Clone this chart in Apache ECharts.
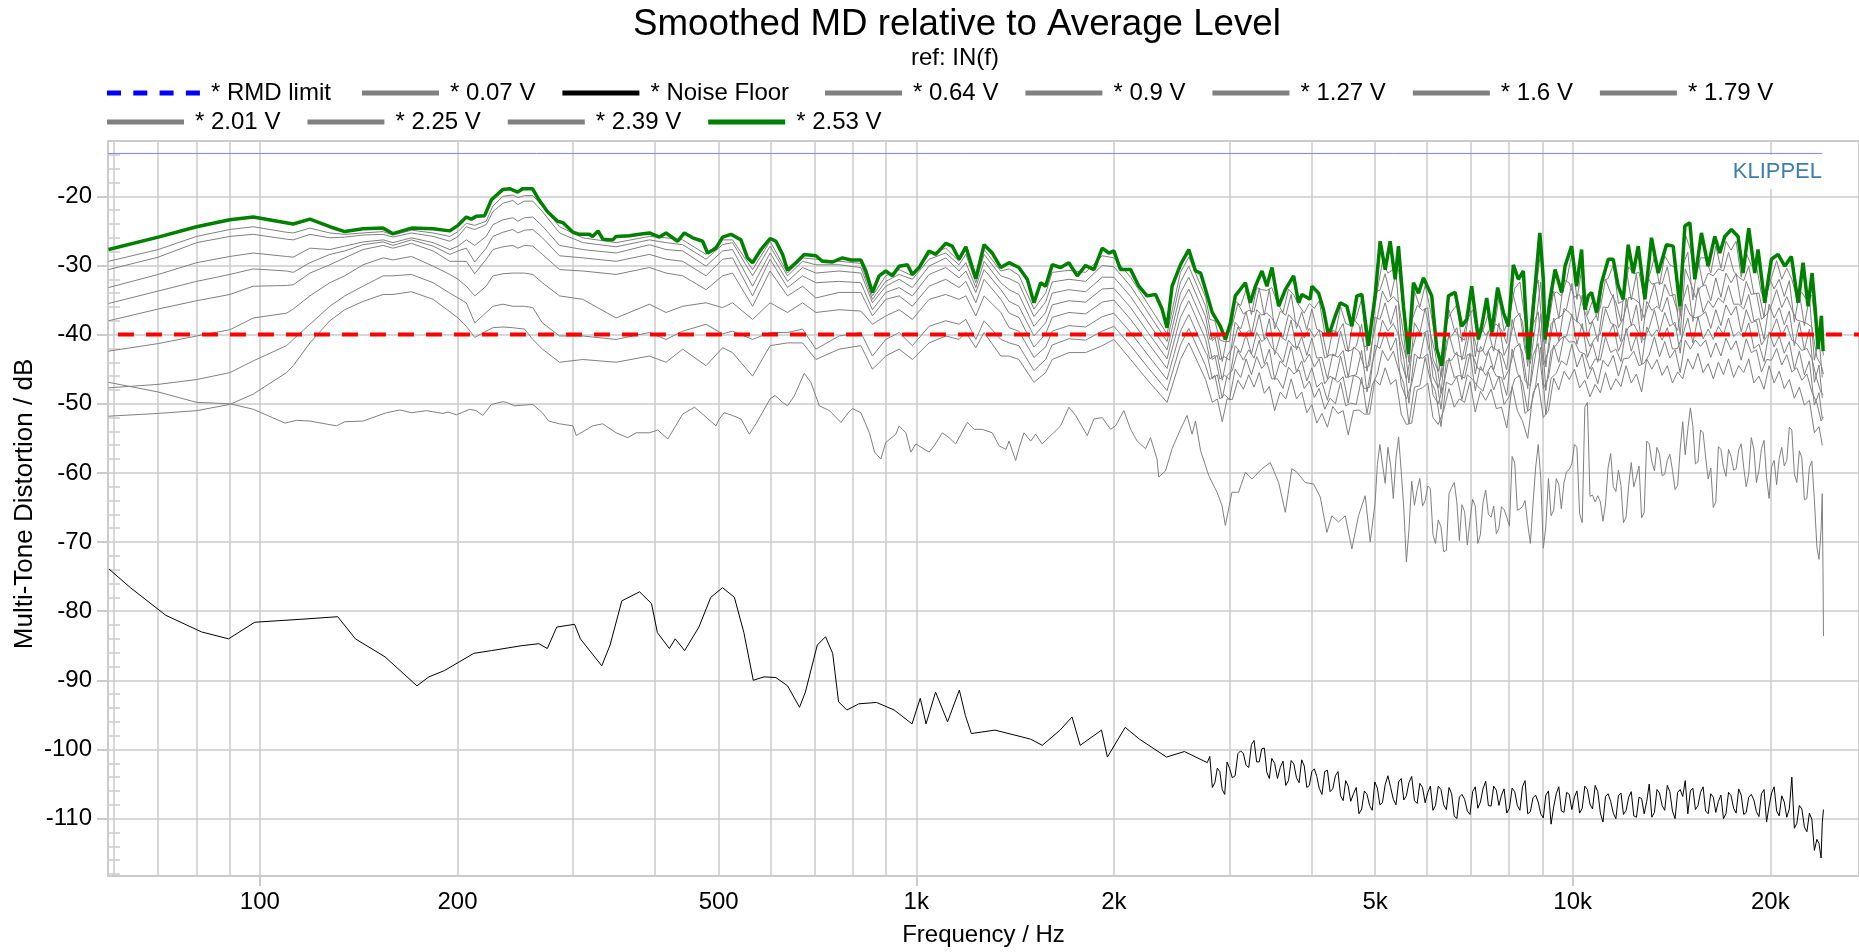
<!DOCTYPE html>
<html><head><meta charset="utf-8">
<script src="https://cdn.jsdelivr.net/npm/echarts@6/dist/echarts.min.js"></script>
<style>html,body{margin:0;padding:0;background:#fff;overflow:hidden}#c{width:1859px;height:952px}</style>
</head><body><div id="c"></div>
<script>
const FONT = '"Liberation Sans", Arial, Helvetica, sans-serif';

// ---- axis ticks ----
const labelFreqs = [100, 200, 500, 1000, 2000, 5000, 10000, 20000];
const gridFreqs = [60,70,80,90,100,200,300,400,500,600,700,800,900,1000,2000,3000,4000,5000,6000,7000,8000,9000,10000,20000];
const decadeFreqs = [100, 1000, 10000];
const yMajorTicks = [-110,-100,-90,-80,-70,-60,-50,-40,-30,-20];
const yMinorTicks = [-118,-116,-114,-112,-108,-106,-104,-102,-98,-96,-94,-92,-88,-86,-84,-82,-78,-76,-74,-72,-68,-66,-64,-62,-58,-56,-54,-52,-48,-46,-44,-42,-38,-36,-34,-32,-28,-26,-24,-22,-18,-16,-14];

// ---- reference levels ----
const rmdLimitLevel = -40;
const rmdLimitRange = [55.1, 27300];
const refLineLevel = -13.8;
const refLineRange = [58.7, 24000];

// ---- 2.53 V (green) ----
const v253 = [[58.8,-27.7],[70,-25.9],[80.1,-24.4],[90,-23.4],[97.7,-23.0],[112.4,-24.0],[119.2,-23.3],[127.8,-24.4],[134.7,-25.1],[143.6,-24.7],[154.1,-24.6],[159.5,-25.4],[170.2,-24.6],[183.6,-24.7],[194.7,-25.0],[200.4,-24.2],[206.3,-23.0],[210,-23.3],[213.6,-22.9],[220,-22.8],[225.3,-20.5],[234.6,-19.0],[240.1,-18.9],[247,-19.4],[251.3,-18.9],[260.2,-18.9],[266.2,-20.5],[274.1,-22.2],[284.2,-23.6],
[289.4,-23.8],[299.9,-25.2],[306.8,-25.5],[317.7,-25.5],[321.3,-25.8],[327.5,-25.0],[333,-26.2],[344.9,-26.3],[348.9,-25.8],[365.6,-25.7],[378.6,-25.5],[392.1,-25.3],[406.1,-25.9],[415.7,-25.3],[433,-26.5],[443.3,-25.3],[456.4,-26.0],[472.6,-26.5],[481,-28.2],[495.3,-27.5],[506.9,-25.9],[522,-25.5],[540.6,-26.3],[553.2,-28.9],[563.1,-29.6],[579.9,-27.7],[598.8,-26.1],[611.2,-26.5],[625.6,-28.4],[636.6,-30.7],[655.6,-29.6],[675,-28.4],[703.2,-28.6],[719.7,-29.4],[745.3,-29.5],[771.8,-28.9],[795,-29.2],[823.4,-29.2],[837.9,-30.8],[857.4,-33.9],[877.7,-31.5],[898.5,-30.8],[919.8,-31.5],[941.6,-30.1],[969.3,-29.9],[986.4,-31.3],[1009.9,-30.3],[1045.8,-27.9],[1070.7,-28.4],[1108.8,-26.8],[1134.6,-27.2],[1161.9,-29.1],[1189.9,-27.3],[1232.3,-31.9],[1268.5,-27.0],[1305.6,-28.2],[1345.2,-30.3],[1384.6,-29.6],
[1433,-30.3],[1476,-32.0],[1511,-35.4],[1547,-32.5],[1574,-33.0],[1611,-29.9],[1659,-30.3],[1708,-29.6],[1759,-31.5],[1811,-30.0],[1865,-30.6],[1920,-27.5],[1965,-28.2],[2000,-27.9],[2047,-30.6],[2121,-30.6],[2183,-33.0],[2247,-34.4],[2315,-34.2],[2368,-36.3],[2410,-39.0],[2453,-33.0],[2526,-29.9],[2601,-27.7],[2663,-30.8],[2711,-31.1],[2759,-33.5],[2824,-36.8],[2906,-38.8],[2957,-40.7],[3010,-38.3],[3062,-34.4],[3172,-32.5],[3228,-35.4],[3285,-33.0],[3362,-30.8],[3421,-33.0],[3482,-30.3],[3565,-35.9],[3649,-33.5],[3757,-31.5],[3823,-35.4],[3868,-34.2],[3980,-34.9],[4006,-33.0],[4101,-34.0],[4173,-36.4],[4247,-40.2],[4348,-37.3],[4424,-35.4],[4528,-35.9],[4609,-38.8],[4690,-34.4],[4773,-34.2],[4885,-41.6],[5000,-34.4],[5090,-26.5],[5180,-30.6],[5271,-26.5],[5365,-32.0],[5427,-27.2],[5523,-35.9],[5620,-42.8],[5720,-32.5],[5821,-34.0],[5925,-31.8],
[6099,-34.4],[6208,-42.1],[6317,-44.5],[6467,-34.4],[6621,-33.9],[6775,-38.8],[6895,-37.8],[7017,-33.0],[7184,-40.7],[7267,-38.8],[7396,-34.7],[7526,-39.7],[7686,-33.2],[7842,-36.8],[7980,-38.8],[8121,-29.9],[8265,-32.0],[8411,-30.8],[8560,-43.6],[8711,-35.9],[8910,-25.3],[9022,-32.0],[9076,-40.7],[9237,-34.9],[9400,-30.6],[9619,-33.9],[9734,-30.1],[9961,-27.2],[10137,-33.0],[10317,-27.7],[10440,-36.4],[10562,-34.4],[10684,-33.9],[10873,-36.8],[11066,-32.5],[11330,-29.1],[11528,-29.1],[11732,-33.0],[11939,-34.9],[12150,-27.0],[12365,-31.1],[12584,-27.2],[12883,-34.9],[13184,-26.0],[13497,-31.1],[13895,-27.0],[14225,-27.2],[14563,-35.9],[14821,-24.3],[15082,-23.8],[15349,-32.0],[15708,-25.3],[16081,-30.1],[16462,-25.8],[16753,-28.2],[17049,-25.8],[17448,-24.8],[17862,-25.8],[18178,-31.1],[18544,-24.6],[18938,-31.1],[19158,-27.7],[19613,-35.4],[20077,-29.1],[20554,-28.4],[21042,-30.1],[21534,-28.7],[22046,-35.4],[22436,-29.6],[22835,-35.9],[23158,-31.1],[23434,-36.8],[23648,-42.1],[23928,-37.3],[24072,-42.4]];

// ---- gray voltage curves: frequencies up to 2.76 kHz ----
const bandFreqs = [58.8,70,80.1,90,97.7,109.8,112.4,119.2,127.8,134.7,143.6,154.1,159.5,170.2,183.6,194.7,200.4,206.3,212.5,221.2,226.5,234.6,242.9,247.2,253,260.5,269.4,286.1,
310.4,348.9,392.1,415.7,440.7,478.3,506.9,524.9,563.1,598.8,636.6,671,703.2,763,823.4,857.4,898.5,941.6,986.4,1045.8,1108.8,1161.9,1189.9,1232.3,1268.5,1345.2,
1385,1433,1511,1574,1611,1708,1811,1920,2000,2121,2247,2410,2526,2601,2759];

// ---- dense frequencies above 2.8 kHz (two interleaved sets) ----
const hfFreqs = [2800,2850,2900,2950,3000,3060,3120,3180,3240,3300,3360,3420,3480,3550,3620,3690,3760,3830,3900,3970,
4040,4110,4190,4270,4350,4430,4510,4590,4680,4770,4860,4950,5040,5130,5230,5330,5430,5530,5630,5740,
5850,5960,6070,6180,6300,6420,6540,6660,6780,6910,7040,7170,7300,7440,7580,7720,7860,8010,8160,8310,
8460,8620,8780,8940,9100,9270,9440,9610,9790,9970,10150,10340,10530,10720,10920,11120,11320,11530,11740,11950,
12170,12390,12620,12850,13080,13320,13560,13810,14060,14320,14580,14840,15110,15380,15660,15940,16230,16520,16820,17120,
17430,17740,18060,18380,18710,19050,19390,19740,20090,20450,20820,21190,21570,21950,22340,22740,23140,23550,23900,24100];
const hfMidFreqs = [2775,2825,2875,2925,2975,3030,3090,3150,3210,3270,3330,3390,3450,3515,3585,3655,3725,3795,3865,3935,
4005,4075,4150,4230,4310,4390,4470,4550,4635,4725,4815,4905,4995,5085,5180,5280,5380,5480,5580,5685,
5795,5905,6015,6125,6240,6360,6480,6600,6720,6845,6975,7105,7235,7370,7510,7650,7790,7935,8085,8235,
8385,8540,8700,8860,9020,9185,9355,9525,9700,9880,10060,10245,10435,10625,10820,11020,11220,11425,11635,11845,
12060,12280,12505,12735,12965,13200,13440,13685,13935,14190,14450,14710,14975,15245,15520,15800,16085,16375,16670,16970,
17275,17585,17900,18220,18545,18880,19220,19565,19915,20270,20635,21005,21380,21760,22145,22540,22940,23345,23725,24000];

const v239 = [-29.4,-27.7,-25.8,-24.8,-24.4,-25.2,-25.3,-24.6,-25.3,-25.5,-25.3,-25.1,-25.6,-24.9,-25.3,-25.8,-25.1,-23.9,-24.2,-23.6,-21.4,-20.0,-19.8,-20.2,-19.9,-19.9,-21.4,-24.4,
-26.0,-26.7,-25.8,-26.0,-26.3,-28.4,-26.3,-26.3,-30.6,-26.5,-31.1,-28.9,-29.1,-29.4,-29.7,-34.4,-31.5,-30.6,-31.5,-28.4,-27.5,-29.4,-27.7,-32.0,-27.7,-30.8,
-30.5,-31.4,-36.3,-34.0,-31.0,-30.7,-31.0,-28.6,-28.9,-31.7,-35.4,-39.9,-31.0,-28.8,-34.6];
const v239hf = [-37.8,-38.0,-40.8,-41.0,-41.0,-35.1,-35.8,-33.5,-37.1,-33.2,-33.5,-33.6,-33.2,-35.5,-36.8,-33.4,-34.3,-35.8,-36.9,-35.5,
-36.2,-35.1,-39.8,-40.1,-39.7,-36.0,-38.4,-38.7,-37.6,-34.8,-42.3,-38.2,-33.6,-29.5,-31.1,-30.6,-30.6,-37.0,-44.0,-33.7,
-36.0,-32.9,-36.4,-40.7,-46.1,-38.1,-36.7,-35.7,-41.0,-37.8,-36.4,-40.6,-39.4,-37.0,-39.6,-34.6,-39.5,-37.5,-33.3,-32.4,
-37.9,-41.2,-34.0,-27.8,-41.3,-34.6,-33.8,-34.4,-32.1,-28.3,-34.9,-30.1,-37.2,-35.1,-38.0,-32.2,-31.9,-29.9,-35.5,-35.1,
-30.2,-31.2,-31.0,-34.7,-31.6,-28.8,-32.8,-28.6,-29.9,-30.3,-37.3,-25.5,-27.7,-31.8,-28.9,-28.9,-31.1,-27.2,-30.4,-26.5,
-27.8,-26.5,-31.7,-28.2,-30.0,-30.1,-34.1,-34.2,-31.7,-29.3,-32.0,-30.4,-32.0,-34.7,-33.9,-35.0,-34.3,-40.3,-40.5,-43.0];

const v225 = [-30.6,-28.8,-26.7,-25.8,-25.5,-26.2,-26.3,-25.5,-26.0,-25.9,-25.6,-25.5,-25.9,-25.3,-25.8,-26.5,-25.8,-24.4,-24.8,-24.1,-22.2,-21.0,-20.6,-21.2,-20.7,-20.7,-22.2,-25.3,
-26.7,-27.3,-26.3,-26.7,-27.0,-29.1,-27.0,-26.7,-31.5,-27.2,-31.5,-29.4,-29.9,-29.9,-30.3,-34.9,-32.3,-31.3,-32.0,-29.1,-28.2,-29.9,-28.4,-32.5,-28.4,-31.5,
-31.9,-32.6,-37.4,-35.3,-32.4,-32.0,-32.3,-30.0,-30.2,-33.0,-36.6,-41.0,-32.4,-30.1,-35.9];
const v225hf = [-37.2,-40.9,-40.2,-43.9,-40.3,-38.6,-35.5,-37.0,-36.5,-36.7,-33.3,-37.2,-33.4,-39.2,-36.6,-37.2,-34.2,-39.1,-36.7,-39.3,
-36.3,-39.2,-39.6,-43.3,-39.4,-39.7,-38.4,-42.5,-37.7,-38.7,-41.8,-41.4,-33.6,-33.6,-31.2,-34.6,-31.0,-40.5,-43.5,-38.0,
-35.8,-36.5,-36.1,-43.5,-45.3,-41.3,-36.4,-39.3,-40.3,-40.8,-36.0,-43.2,-38.8,-40.1,-39.0,-38.5,-39.3,-41.3,-33.5,-36.7,
-38.1,-44.6,-34.2,-32.1,-41.0,-38.5,-33.7,-37.7,-32.1,-32.5,-34.6,-34.2,-36.7,-38.5,-37.5,-36.1,-32.0,-34.0,-35.3,-38.1,
-30.4,-35.0,-31.2,-38.0,-31.5,-32.7,-32.5,-32.6,-30.2,-34.3,-36.7,-30.0,-28.1,-35.0,-29.0,-32.9,-31.1,-31.5,-30.5,-30.8,
-28.1,-30.8,-31.7,-32.2,-30.1,-34.1,-34.0,-37.5,-31.7,-33.4,-32.0,-34.5,-32.2,-38.2,-34.0,-38.7,-34.6,-43.7,-40.4,-46.2];

const v201 = [-33.2,-31.3,-29.6,-28.7,-28.2,-28.7,-28.8,-27.5,-27.7,-27.2,-26.6,-26.3,-26.7,-26.0,-26.7,-27.7,-27.2,-26.3,-27.1,-25.8,-24.1,-23.4,-23.1,-23.6,-23.1,-23.0,-24.3,-27.1,
-27.7,-28.2,-27.0,-27.7,-27.9,-30.1,-27.9,-27.7,-33.0,-28.2,-32.3,-30.3,-31.1,-30.8,-31.1,-35.4,-33.0,-32.0,-33.2,-30.1,-28.9,-30.8,-29.6,-33.2,-29.4,-32.5,
-33.5,-34.2,-38.8,-36.8,-34.0,-33.5,-33.8,-31.7,-31.7,-34.5,-38.0,-42.2,-34.0,-31.7,-37.4];
const v201hf = [-40.7,-40.3,-43.6,-43.2,-43.7,-38.2,-39.2,-36.7,-40.0,-36.4,-37.2,-36.9,-37.6,-39.0,-40.4,-37.1,-38.0,-38.7,-40.5,-39.1,
-40.4,-39.3,-43.4,-42.9,-43.1,-39.5,-42.3,-42.3,-41.7,-38.5,-45.3,-41.0,-37.5,-33.7,-35.3,-34.5,-35.4,-40.2,-47.0,-38.3,
-39.7,-36.2,-39.8,-42.8,-48.5,-40.8,-40.2,-39.0,-43.7,-40.1,-39.7,-42.5,-42.3,-39.5,-42.4,-38.3,-43.0,-41.2,-37.6,-36.9,
-42.3,-44.2,-38.4,-32.4,-44.7,-38.4,-37.7,-37.3,-36.2,-32.6,-38.2,-34.3,-40.2,-38.1,-41.0,-36.0,-36.1,-34.2,-39.0,-37.6,
-34.6,-34.8,-35.4,-37.6,-35.3,-32.6,-36.2,-32.7,-34.4,-34.2,-40.0,-30.5,-32.4,-34.6,-33.1,-32.8,-35.1,-31.8,-34.6,-31.1,
-32.5,-31.2,-35.7,-32.3,-34.2,-34.0,-37.8,-37.1,-35.7,-33.5,-36.1,-34.5,-36.4,-37.9,-38.1,-38.4,-38.9,-43.3,-44.4,-45.7];

const v179 = [-35.5,-33.7,-32.3,-31.3,-30.5,-30.8,-31.0,-29.6,-28.4,-27.9,-27.0,-26.6,-27.1,-26.3,-27.2,-28.4,-27.9,-27.5,-29.5,-27.5,-25.8,-25.2,-24.8,-25.3,-24.9,-24.8,-26.0,-28.6,
-28.9,-29.4,-28.4,-29.1,-29.4,-31.5,-29.1,-28.9,-34.4,-29.1,-33.2,-31.5,-32.5,-32.3,-32.5,-36.4,-33.9,-33.2,-34.4,-31.3,-30.3,-31.8,-30.8,-33.9,-30.6,-33.5,
-35.2,-35.9,-40.2,-38.3,-35.7,-35.1,-35.3,-33.4,-33.3,-36.1,-39.5,-43.5,-35.7,-33.4,-39.0];
const v179hf = [-40.1,-43.6,-43.0,-46.6,-43.1,-41.9,-38.9,-40.3,-39.4,-40.0,-37.1,-40.7,-37.7,-42.9,-40.2,-40.9,-37.9,-42.2,-40.3,-43.0,
-40.5,-43.4,-43.3,-46.4,-42.8,-43.3,-42.3,-46.2,-41.8,-42.4,-44.8,-44.5,-37.5,-37.8,-35.4,-38.5,-35.8,-43.9,-46.4,-42.5,
-39.6,-39.9,-39.4,-46.1,-47.7,-44.3,-39.9,-42.7,-43.1,-43.5,-39.4,-45.7,-41.7,-43.0,-41.7,-42.2,-42.7,-45.1,-37.8,-41.1,
-42.5,-47.8,-38.6,-36.7,-44.4,-42.4,-37.6,-40.9,-36.2,-36.8,-37.8,-38.4,-39.7,-41.7,-40.5,-39.9,-36.2,-38.3,-38.7,-41.0,
-34.7,-38.7,-35.7,-41.2,-35.2,-36.5,-35.9,-36.7,-34.6,-38.2,-39.4,-35.1,-32.8,-38.1,-33.2,-36.8,-35.1,-36.1,-34.7,-35.4,
-32.9,-35.6,-35.6,-36.3,-34.2,-38.0,-37.7,-40.7,-35.6,-37.6,-36.1,-38.6,-36.6,-41.6,-38.2,-42.2,-39.2,-46.9,-44.4,-49.2];

const v160 = [-38.0,-36.3,-35.1,-34.2,-33.0,-32.9,-32.8,-31.1,-29.9,-28.9,-27.7,-27.1,-27.5,-26.8,-27.9,-29.4,-29.4,-29.4,-31.2,-29.1,-27.7,-27.3,-27.1,-27.5,-27.1,-27.2,-28.4,-30.6,
-30.8,-31.3,-30.3,-31.1,-31.5,-33.5,-31.5,-31.1,-35.9,-30.8,-34.4,-33.0,-34.7,-33.9,-33.9,-37.3,-34.9,-34.4,-35.9,-33.0,-32.0,-33.2,-32.3,-35.4,-32.0,-34.9,
-36.9,-37.5,-41.8,-39.9,-37.5,-36.8,-37.0,-35.3,-35.0,-37.8,-41.0,-44.9,-37.5,-35.1,-40.7];
const v160hf = [-43.5,-43.0,-46.4,-45.9,-46.5,-41.6,-42.6,-40.0,-42.8,-39.7,-41.0,-40.4,-41.9,-42.7,-44.0,-40.8,-41.8,-41.8,-44.0,-42.8,
-44.7,-43.5,-47.1,-46.0,-46.5,-43.1,-46.2,-46.0,-45.8,-42.3,-48.3,-44.1,-41.5,-37.9,-39.5,-38.4,-40.1,-43.6,-49.9,-42.8,
-43.5,-39.7,-43.1,-45.4,-50.8,-43.8,-43.7,-42.5,-46.5,-42.9,-43.0,-44.9,-45.2,-42.4,-45.1,-42.1,-46.5,-44.9,-41.9,-41.3,
-46.7,-47.4,-42.8,-37.0,-48.1,-42.3,-41.5,-40.5,-40.2,-37.0,-41.4,-38.4,-43.3,-41.3,-44.0,-39.8,-40.2,-38.5,-42.4,-40.5,
-38.9,-38.5,-39.9,-40.8,-39.0,-36.4,-39.6,-36.8,-38.8,-38.2,-42.7,-35.6,-37.2,-37.6,-37.3,-36.7,-39.1,-36.4,-38.7,-35.7,
-37.2,-35.9,-39.6,-36.4,-38.3,-38.0,-41.5,-40.3,-39.6,-37.7,-40.2,-38.6,-40.8,-41.3,-42.3,-42.0,-43.5,-46.5,-48.4,-48.7];

const v127 = [-42.4,-41.3,-40.2,-39.3,-37.6,-36.9,-36.3,-34.4,-32.5,-31.5,-29.9,-28.9,-29.2,-28.7,-30.1,-31.3,-32.0,-33.0,-34.4,-33.0,-31.5,-31.2,-31.1,-31.1,-31.1,-31.3,-32.5,-34.4,
-34.9,-37.6,-35.6,-36.8,-35.9,-35.4,-36.1,-35.4,-37.8,-35.4,-36.8,-35.4,-36.8,-36.4,-36.6,-38.5,-37.3,-36.4,-37.8,-34.9,-34.2,-34.9,-34.4,-37.3,-34.4,-36.8,
-39.0,-39.5,-43.3,-41.8,-39.5,-38.7,-38.9,-37.4,-36.9,-39.7,-42.8,-46.5,-39.5,-37.1,-42.6];
const v127hf = [-42.9,-46.4,-45.8,-49.2,-45.9,-45.2,-42.3,-43.7,-42.2,-43.4,-40.8,-44.2,-42.1,-46.5,-43.8,-44.7,-41.7,-45.4,-43.8,-46.7,
-44.8,-47.6,-46.9,-49.5,-46.2,-46.9,-46.1,-49.9,-45.9,-46.2,-47.8,-47.6,-41.5,-42.0,-39.6,-42.3,-40.5,-47.3,-49.3,-47.1,
-43.3,-43.4,-42.8,-48.7,-50.0,-47.3,-43.4,-46.2,-45.9,-46.3,-42.7,-48.1,-44.6,-45.9,-44.5,-46.0,-46.2,-48.8,-42.1,-45.5,
-47.0,-51.0,-43.0,-41.3,-47.8,-46.2,-41.5,-44.0,-40.2,-41.1,-41.0,-42.5,-42.8,-45.0,-43.5,-43.7,-40.3,-42.6,-42.1,-43.9,
-39.1,-42.4,-40.1,-44.3,-38.9,-40.3,-39.3,-40.8,-39.0,-42.1,-42.0,-40.1,-37.6,-41.2,-37.4,-40.6,-39.2,-40.7,-38.8,-40.0,
-37.6,-40.3,-39.6,-40.4,-38.3,-42.0,-41.4,-43.9,-39.6,-41.8,-40.2,-42.7,-41.0,-45.0,-42.4,-45.8,-43.8,-50.2,-48.4,-52.2];

const v090 = [-47.7,-47.2,-46.5,-45.5,-43.8,-41.6,-40.7,-38.5,-35.9,-34.4,-33.0,-31.5,-31.5,-31.3,-32.5,-34.0,-34.7,-35.4,-38.3,-36.8,-35.9,-35.6,-35.9,-35.9,-35.9,-36.1,-38.3,-40.2,
-40.2,-40.7,-39.7,-40.7,-39.5,-38.5,-39.9,-39.5,-40.7,-39.7,-39.7,-39.2,-42.1,-40.2,-39.7,-43.1,-40.7,-39.7,-41.6,-38.8,-38.0,-38.5,-37.8,-40.7,-38.0,-40.7,
-41.2,-41.6,-45.2,-43.6,-41.5,-40.6,-40.8,-39.5,-38.8,-41.6,-44.6,-48.1,-41.5,-39.1,-44.5];
const v090hf = [-46.5,-45.9,-49.3,-48.7,-49.4,-45.0,-46.2,-43.5,-45.8,-43.2,-44.9,-44.0,-46.4,-46.4,-47.8,-44.7,-45.7,-45.1,-47.8,-46.7,
-49.1,-47.8,-50.8,-49.2,-50.0,-46.9,-50.3,-49.9,-50.1,-46.2,-51.4,-47.3,-45.7,-42.3,-43.8,-42.4,-45.1,-47.1,-52.9,-47.6,
-47.4,-43.3,-46.6,-48.2,-53.3,-46.9,-47.3,-46.1,-49.4,-45.8,-46.5,-47.5,-48.2,-45.4,-48.0,-46.0,-50.1,-48.9,-46.4,-45.9,
-51.4,-50.7,-47.4,-41.8,-51.6,-46.3,-45.6,-43.8,-44.4,-41.4,-44.7,-42.8,-46.4,-44.7,-47.1,-43.7,-44.6,-43.0,-46.0,-43.5,
-43.4,-42.4,-44.5,-44.1,-42.9,-40.3,-43.2,-41.0,-43.4,-42.2,-45.5,-40.8,-42.1,-40.8,-41.7,-40.8,-43.3,-41.2,-43.1,-40.5,
-42.2,-40.9,-43.7,-40.6,-42.6,-42.2,-45.4,-43.6,-43.7,-42.0,-44.4,-42.9,-45.4,-44.8,-46.6,-45.7,-48.3,-49.9,-52.5,-51.9];

const v064 = [-51.8,-51.4,-51.0,-50.1,-48.6,-45.5,-44.5,-41.2,-38.0,-36.4,-35.2,-34.2,-34.2,-33.8,-34.9,-36.7,-37.6,-38.8,-40.4,-39.5,-39.0,-38.9,-39.0,-39.1,-39.2,-40.7,-42.1,-44.0,
-43.6,-44.0,-43.1,-44.0,-42.1,-44.5,-41.9,-42.6,-46.0,-41.6,-41.2,-41.2,-43.6,-42.1,-41.6,-45.0,-43.1,-42.1,-43.6,-41.2,-40.2,-40.7,-39.7,-41.9,-39.7,-43.1,
-43.1,-43.6,-46.9,-45.5,-43.6,-42.6,-42.6,-41.6,-40.7,-43.6,-46.5,-49.8,-43.6,-41.2,-46.5];
const v064hf = [-46.5,-49.8,-49.3,-52.6,-49.3,-49.4,-46.6,-47.9,-45.8,-47.6,-45.5,-48.5,-47.5,-51.0,-48.3,-49.3,-46.4,-49.3,-48.3,-51.3,
-50.1,-52.8,-51.4,-53.4,-50.4,-51.4,-51.0,-54.5,-51.0,-50.9,-51.5,-51.5,-46.5,-47.3,-44.8,-47.2,-46.5,-51.5,-53.0,-52.8,
-48.0,-47.7,-47.0,-52.0,-53.0,-51.0,-47.8,-50.5,-49.3,-49.8,-46.8,-51.2,-48.2,-49.5,-47.9,-50.7,-50.5,-53.5,-47.5,-51.0,
-52.5,-55.0,-48.5,-47.0,-52.0,-51.0,-46.3,-48.0,-45.3,-46.5,-45.0,-47.7,-46.6,-49.0,-47.2,-48.4,-45.5,-48.0,-46.4,-47.5,
-44.5,-47.0,-45.7,-48.3,-43.5,-45.0,-43.6,-45.9,-44.5,-47.0,-45.4,-46.4,-43.5,-45.0,-42.7,-45.5,-44.2,-46.4,-44.0,-45.8,
-43.5,-46.2,-44.5,-45.5,-43.5,-47.0,-46.0,-47.9,-44.5,-47.0,-45.3,-47.8,-46.5,-49.2,-47.6,-50.2,-49.5,-54.2,-53.3,-56.0];

// ---- 0.07 V ----
const v007 = [[58.8,-46.9],[70,-48.3],[80.1,-49.8],[90,-50.0],[97.7,-50.8],[109.2,-52.8],[113.7,-52.4],[119.2,-52.5],[130.8,-53.2],[134.7,-52.6],[143.6,-52.5],[155.9,-51.3],[163.5,-50.9],[170.2,-51.3],[179.3,-51.0],[190.1,-51.4],[193.5,-51.2],[199.3,-51.6],[208.8,-50.8],[213.6,-51.0],[218.6,-51.7],[225.3,-50.1],[234.6,-49.7],[237.4,-49.8],[244.4,-50.3],[260.5,-50.1],[269.4,-51.3],[275.3,-52.5],[286.1,-52.9],
[299.9,-53.2],[303.4,-54.6],[321.3,-53.2],[333,-52.9],[348.9,-54.2],[363.5,-54.9],[374.3,-54.2],[392.1,-54.2],[403.8,-53.8],[418.3,-55.1],[440.7,-51.5],[459.3,-50.5],[472.6,-51.5],[495.3,-53.2],[501,-52.2],[509.9,-51.3],[524.9,-51.7],[540.6,-52.2],[556.7,-54.4],[569.9,-52.9],[598.8,-49.3],[609.4,-48.8],[625.6,-49.8],[636.6,-50.3],[651.6,-48.9],[675,-45.6],[690.9,-46.9],[711.6,-50.3],[737.6,-51.0],[767.5,-52.7],[789.3,-51.2],[799.3,-50.7],[823.4,-51.3],[848.4,-54.2],[863.9,-57.0],[883.1,-58.0],[898.5,-55.6],[930.9,-54.4],[941.6,-53.2],[964.1,-54.2],[981.1,-57.0],[998.3,-55.8],[1045.8,-57.0],[1064.3,-56.1],[1095.7,-54.2],[1121.6,-54.9],[1148.1,-55.8],[1196.5,-52.7],[1225.2,-53.7],[1260.3,-53.7],[1305.6,-54.2],[1337.4,-56.1],[1369.6,-56.6],[1384.6,-55.4],
[1417,-58.2],[1433,-56.5],[1459,-54.2],[1494,-55.4],[1520,-54.4],[1555,-55.8],[1611,-54.4],[1659,-53.2],[1708,-50.5],[1749,-51.7],[1822,-54.6],[1865,-52.2],[1920,-52.0],[1977,-53.7],[2012,-53.2],[2071,-51.0],[2121,-53.7],[2170,-55.4],[2235,-56.5],[2274,-54.9],[2327,-58.0],[2341,-60.6],[2397,-59.7],[2453,-56.5],[2526,-53.7],[2585,-51.7],[2631,-54.4],[2663,-52.5],[2711,-56.8],[2790,-60.4],[2872,-62.8],[2922,-64.7],[2957,-67.6],[3026,-62.8],[3098,-62.8],[3172,-59.9],[3246,-60.9],[3362,-59.4],[3462,-58.5],[3565,-61.4],[3649,-65.7],[3734,-59.4],[3800,-59.9],[3914,-61.4],[4029,-61.6],[4125,-63.5],[4222,-68.6],[4297,-66.2],[4398,-67.1],[4503,-66.2],[4609,-71.0],[4717,-66.2],[4829,-63.3],[4915,-70.0],[5000,-64.3],
[5040,-58.8],[5130,-58.7],[5230,-56.3],[5330,-63.7],[5430,-54.8],[5530,-65.2],[5630,-68.3],[5740,-64.7],[5850,-60.8],[5960,-64.0],[6070,-62.3],[6180,-70.2],[6300,-67.8],[6420,-71.2],[6540,-62.1],[6660,-64.2],[6780,-64.6],[6910,-70.4],[7040,-63.8],[7170,-70.2],[7300,-64.3],[7440,-66.0],[7580,-64.8],[7720,-68.0],[7860,-65.3],[8010,-67.7],[8160,-58.6],[8310,-65.2],[8460,-64.0],[8620,-70.2],[8780,-59.3],[8940,-60.7],[9100,-67.8],[9270,-66.2],[9440,-60.8],[9610,-65.2],[9790,-59.8],[9970,-58.7],[10150,-56.3],[10340,-67.2],[10530,-49.8],[10720,-63.2],[10920,-63.3],[11120,-67.0],[11320,-59.3],[11530,-62.0],[11740,-59.6],[11950,-67.2],[12170,-61.8],[12390,-62.0],[12620,-59.0],[12850,-65.7],[13080,-55.8],[13320,-59.7],[13560,-57.3],[13810,-60.2],[14060,-57.3],[14320,-62.4],[14580,-56.6],[14840,-57.4],[15110,-50.6],[15380,-58.7],[15660,-53.8],[15940,-57.7],[16230,-59.3],[16520,-64.2],[16820,-56.6],[17120,-60.5],[17430,-57.6],[17740,-59.4],[18060,-55.8],[18380,-62.0],[18710,-54.9],[19050,-61.4],[19390,-56.5],[19740,-60.7],[20090,-59.1],[20450,-61.7],[20820,-56.3],[21190,-58.2],[21570,-53.8],[21950,-61.4],[22340,-57.8],[22740,-63.7],[23140,-58.3],[23550,-70.7],[23900,-68.3],[24000,-63.0],[24060,-74.0],[24100,-83.6]];
const v007mid = [[5085,-55.9],[5180,-61.5],[5280,-58.9],[5380,-57.9],[5480,-59.8],[5580,-72.9],[5685,-61.2],[5795,-62.4],[5905,-64.8],[6015,-61.9],[6125,-68.9],[6240,-66.8],[6360,-71.4],[6480,-63.0],[6600,-61.4],[6720,-69.8],[6845,-65.6],[6975,-66.9],[7105,-64.8],[7235,-68.9],[7370,-62.5],[7510,-66.4],[7650,-68.8],[7790,-64.9],[7935,-66.4],[8085,-57.6],[8235,-65.4],[8385,-64.9],[8540,-67.4],[8700,-64.5],[8860,-55.9],[9020,-70.9],[9185,-60.8],[9355,-65.4],[9525,-61.7],[9700,-61.4],[9880,-59.5],[10060,-55.9],[10245,-65.9],[10435,-50.5],[10625,-63.4],[10820,-64.2],[11020,-64.2],[11220,-64.5],[11425,-57.2],[11635,-62.7],[11845,-61.8],[12060,-66.4],[12280,-58.5],[12505,-60.6],[12735,-66.5],[12965,-55.4],[13200,-58.4],[13440,-56.3],[13685,-60.4],[13935,-58.2],[14190,-59.6],[14450,-61.8],[14710,-52.6],[14975,-53.7],[15245,-53.3],[15520,-58.4],[15800,-54.2],[16085,-60.9],[16375,-65.0],[16670,-56.2],[16970,-59.2],[17275,-56.6],[17585,-59.6],[17900,-56.7],[18220,-59.2],[18545,-60.1],[18880,-56.6],[19220,-59.6],[19565,-55.3],[19915,-63.7],[20270,-58.2],[20635,-57.9],[21005,-59.0],[21380,-53.4],[21760,-60.1],[22145,-56.8],[22540,-63.9],[22940,-59.2],[23345,-63.9],[23725,-72.5]];

// ---- noise floor ----
const noiseFloor = [[58.9,-73.9],[63.5,-76.6],[71.9,-80.6],[81.5,-83.0],[89.6,-84.0],[98.2,-81.6],[118.4,-81.1],[131.4,-80.8],[139.8,-84.0],[155.1,-86.6],[173.5,-90.8],[180.9,-89.5],[191,-88.6],[211.8,-86.1],[225.4,-85.7],[250.1,-85.0],[266.1,-84.7],[274.1,-85.4],[283.3,-82.3],[301.6,-81.9],[307.8,-84.0],[331.8,-87.9],[341.6,-84.9],[356,-78.5],[378.9,-77.2],[395,-78.9],[403.3,-83.1],[420.5,-85.4],[429.3,-84.0],[443.7,-85.7],[466.5,-82.3],[486.3,-78.0],[506.8,-76.6],[528.3,-78.0],[546.2,-83.1],[564.5,-90.0],[586.1,-89.5],[611.1,-89.6],[636.8,-90.8],[663.9,-93.9],[677.8,-91.7],[706.6,-84.9],[727.4,-83.7],[745.8,-86.1],[761.4,-93.1],[783.8,-94.3],[817.3,-93.4],[869.7,-93.2],[925.6,-94.3],[985.1,-96.3],[1014,-92.6],[1035,-96.3],[1070,-91.7],[1116,-96.0],[1163,-91.4],[1188,-95.1],[1213,-97.7],[1318,-97.2],[1493,-98.5],[1556,-99.4],[1656,-97.2],[1727,-95.3],[1777,-99.4],[1915,-97.2],[1955,-101.1],[2081,-96.8],[2187,-98.5],[2261,-99.4],[2406,-101.1],[2561,-100.3],[2783,-102.0]];
const noiseFloorHf = [-101.0,-104.8,-103.2,-106.5,-102.7,-103.8,-100.2,-102.3,-99.3,-101.8,-99.9,-103.3,-101.3,-104.2,-101.7,-104.5,-102.1,-104.8,-102.4,-105.2,
-102.8,-105.6,-103.2,-106.1,-103.8,-106.7,-104.5,-107.5,-105.5,-108.6,-106.5,-108.8,-105.6,-107.7,-103.8,-107.2,-104.7,-107.3,-104.8,-107.4,
-104.9,-107.7,-105.3,-108.1,-105.8,-108.7,-106.4,-110.0,-106.5,-108.9,-106.1,-108.5,-105.7,-108.1,-105.3,-108.1,-105.7,-108.5,-106.1,-108.8,
-104.5,-109.0,-106.6,-109.3,-106.6,-110.8,-106.4,-108.9,-106.2,-108.7,-106.0,-108.5,-105.8,-108.6,-106.1,-110.5,-106.4,-109.2,-106.7,-109.4,
-106.9,-109.6,-106.9,-109.3,-105.0,-109.1,-106.3,-108.8,-106.1,-110.0,-105.8,-104.5,-106.0,-108.7,-106.2,-108.9,-106.4,-109.1,-106.6,-109.3,
-106.7,-109.2,-106.6,-109.1,-106.5,-109.0,-106.4,-110.5,-106.3,-108.9,-106.7,-109.8,-104.0,-110.7,-108.6,-111.9,-110.1,-113.0,-115.7,-108.7];
const noiseFloorMid = [-101.9,-105.5,-102.7,-105.8,-101.8,-104.1,-100.6,-100.6,-102.6,-98.7,-101.8,-99.8,-104.2,-102.0,-102.6,-105.2,-101.6,-104.1,-101.5,-105.5,
-103.2,-103.9,-106.5,-103.0,-105.7,-103.2,-107.4,-105.3,-106.4,-109.3,-106.0,-108.1,-104.7,-108.0,-105.1,-105.5,-108.0,-104.2,-106.7,-103.9,
-107.8,-105.5,-106.2,-108.8,-105.3,-108.0,-105.5,-109.6,-106.9,-107.2,-109.4,-105.4,-107.6,-104.6,-108.2,-105.9,-106.6,-109.2,-105.6,-108.1,
-105.4,-109.3,-107.0,-107.6,-109.9,-106.0,-108.3,-105.4,-109.1,-106.5,-106.9,-109.2,-105.3,-107.9,-105.2,-109.2,-106.8,-107.5,-110.0,-106.3,
-108.8,-106.1,-109.8,-107.1,-107.5,-109.8,-105.8,-108.1,-105.2,-108.9,-106.2,-106.8,-109.3,-105.6,-108.1,-105.4,-109.3,-106.9,-107.5,-110.0,
-106.2,-108.5,-105.7,-109.4,-106.9,-107.3,-109.7,-105.8,-108.2,-105.4,-109.6,-107.6,-108.6,-111.4,-108.1,-111.2,-109.2,-114.6,-113.6,-110.6];

// ---- legend groups ----
const legendRmd = ['* RMD limit'];
const legendRow1a = ['* 0.07 V', '* Noise Floor'];
const legendRow1b = ['* 0.64 V', '* 0.9 V', '* 1.27 V', '* 1.6 V', '* 1.79 V'];
const legendRow2 = ['* 2.01 V', '* 2.25 V', '* 2.39 V', '* 2.53 V'];

const pairs = (fs, vs) => fs.map((f, i) => [f, vs[i]]);
const byFreq = (a, b) => a[0] - b[0];
const band = (lo, hi, hiFreqs) => pairs(bandFreqs, lo).concat(pairs(hiFreqs, hi));
const GRAY = '#808080', GRID = '#cbcbcb';

function lineSeries(name, data, color, width, z, extra) {
  return Object.assign({
    name, type: 'line', data, symbol: 'none', showSymbol: false, silent: true,
    lineStyle: { color, width }, itemStyle: { color }, z, animation: false
  }, extra || {});
}

const noiseData = noiseFloor.concat(pairs(hfFreqs, noiseFloorHf), pairs(hfMidFreqs, noiseFloorMid)).sort(byFreq);
const v007Data = v007.concat(v007mid).sort(byFreq);

const series = [
  lineSeries('ref', [[refLineRange[0], refLineLevel], [refLineRange[1], refLineLevel]], '#7f7fff', 1, 2),
  lineSeries('* 0.07 V', v007Data, GRAY, 1, 3),
  lineSeries('* Noise Floor', noiseData, '#000000', 1, 3),
  lineSeries('* 0.64 V', band(v064, v064hf, hfMidFreqs), GRAY, 1, 3),
  lineSeries('* 0.9 V', band(v090, v090hf, hfFreqs), GRAY, 1, 3),
  lineSeries('* 1.27 V', band(v127, v127hf, hfMidFreqs), GRAY, 1, 3),
  lineSeries('* 1.6 V', band(v160, v160hf, hfFreqs), GRAY, 1, 3),
  lineSeries('* 1.79 V', band(v179, v179hf, hfMidFreqs), GRAY, 1, 3),
  lineSeries('* 2.01 V', band(v201, v201hf, hfFreqs), GRAY, 1, 3),
  lineSeries('* 2.25 V', band(v225, v225hf, hfMidFreqs), GRAY, 1, 3),
  lineSeries('* 2.39 V', band(v239, v239hf, hfFreqs), GRAY, 1, 3),
  lineSeries('* 2.53 V', v253, '#008000', 3.5, 5),
  lineSeries('* RMD limit', [[rmdLimitRange[0], rmdLimitLevel], [rmdLimitRange[1], rmdLimitLevel]], '#ff0000', 4, 6,
    { clip: false, lineStyle: { color: '#ff0000', width: 4, type: [16, 12] } })
];

const dashIcon = 'path://M0 0h14v5H0zM26.3 0h14v5h-14zM52.6 0h14v5h-14zM78.9 0h14v5h-14z';
function legendItem(name) {
  if (name === '* RMD limit') return { name, icon: dashIcon, itemStyle: { color: '#0000ff' } };
  return { name, icon: 'rect' };
}
const legendBase = {
  itemWidth: 77, itemHeight: 5, itemGap: 27, padding: 0, selectedMode: false,
  textStyle: { fontSize: 24, fontFamily: FONT, color: '#000', padding: [0, 0, 0, 6] }
};

const option = {
  animation: false,
  backgroundColor: '#ffffff',
  textStyle: { fontFamily: FONT },
  grid: { left: 108, top: 141, right: -2, bottom: 75, show: true, borderColor: GRID, borderWidth: 2, containLabel: false },
  legend: [
    Object.assign({}, legendBase, { left: 107, top: 81, itemWidth: 93, data: legendRmd.map(legendItem) }),
    Object.assign({}, legendBase, { left: 362, top: 81, data: legendRow1a.map(legendItem) }),
    Object.assign({}, legendBase, { left: 825, top: 81, data: legendRow1b.map(legendItem) }),
    Object.assign({}, legendBase, { left: 107, top: 110, data: legendRow2.map(legendItem) })
  ],
  graphic: [
    { type: 'text', x: 957, y: 24.5, style: { text: 'Smoothed MD relative to Average Level', font: '36.7px ' + FONT, fill: '#000', align: 'center', verticalAlign: 'middle' } },
    { type: 'text', x: 955, y: 58.5, style: { text: 'ref: IN(f)', font: '24px ' + FONT, fill: '#000', align: 'center', verticalAlign: 'middle' } },
    { type: 'text', x: 25, y: 504, rotation: Math.PI / 2, style: { text: 'Multi-Tone Distortion / dB', font: '26px ' + FONT, fill: '#000', align: 'center', verticalAlign: 'middle' } },
    { type: 'text', x: 1822, y: 172, z: 10, style: { text: 'KLIPPEL', font: '22px ' + FONT, fill: '#3d7db0', align: 'right', verticalAlign: 'middle', backgroundColor: '#fff', padding: [6, 0, 6, 4] } }
  ],
  xAxis: [
    {
      type: 'log', logBase: 10, min: 58.7, max: 27300, gridIndex: 0,
      axisLine: { show: false },
      axisTick: { show: false, customValues: gridFreqs },
      splitLine: { show: true, lineStyle: { color: GRID, width: 1.5 } },
      minorTick: { show: false }, minorSplitLine: { show: false },
      axisLabel: {
        customValues: labelFreqs, margin: 14, fontSize: 24, color: '#000', fontFamily: FONT,
        formatter: v => { const r = Math.round(v); return r >= 1000 ? (r / 1000) + 'k' : String(r); }
      },
      name: 'Frequency / Hz', nameLocation: 'middle', nameGap: 47,
      nameTextStyle: { fontSize: 24, color: '#000', fontFamily: FONT }
    },
    {
      type: 'log', logBase: 10, min: 58.7, max: 27300, gridIndex: 0, position: 'bottom',
      axisLine: { show: false },
      axisTick: { show: true, customValues: decadeFreqs, length: 10, lineStyle: { color: GRID, width: 2 } },
      axisLabel: { show: false }, splitLine: { show: false }
    }
  ],
  yAxis: [
    {
      type: 'value', min: -118.3, max: -12, gridIndex: 0,
      axisLine: { show: false },
      axisTick: { show: true, customValues: yMajorTicks, length: 11, lineStyle: { color: GRID, width: 2 } },
      axisLabel: { customValues: yMajorTicks, margin: 16, fontSize: 24, color: '#000', fontFamily: FONT },
      splitLine: { show: true, lineStyle: { color: GRID, width: 1.5 } }
    },
    {
      type: 'value', min: -118.3, max: -12, gridIndex: 0, position: 'left',
      axisLine: { show: false },
      axisTick: { show: true, inside: true, customValues: yMinorTicks, length: 12, lineStyle: { color: GRID, width: 1.5 } },
      axisLabel: { show: false }, splitLine: { show: false }
    }
  ],
  series
};

const chart = echarts.init(document.getElementById('c'), null, { renderer: 'canvas' });
chart.setOption(option);
</script>
</body></html>
